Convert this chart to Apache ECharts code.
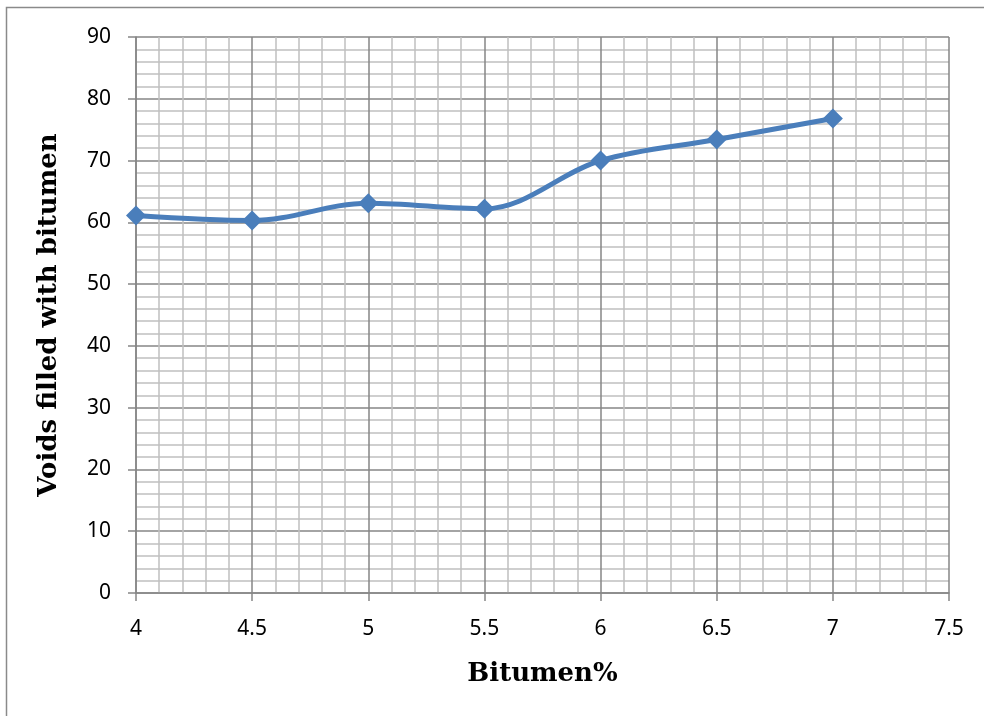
<!DOCTYPE html>
<html>
<head>
<meta charset="utf-8">
<script src="https://cdn.jsdelivr.net/npm/echarts@6/dist/echarts.min.js"></script>
<style>
  html, body { margin: 0; padding: 0; background: #fff; }
  #chart { width: 984px; height: 716px; }
</style>
</head>
<body>
<div id="chart"></div>
<script>
// Bitumen content (%) and voids filled with bitumen (VFB)
const bitumenPct = [4, 4.5, 5, 5.5, 6, 6.5, 7];
const vfb = [61.1, 60.3, 63.1, 62.2, 70.0, 73.4, 76.8];

const xAxisTitle = 'Bitumen%';
const yAxisTitle = 'Voids filled with bitumen';

const majorColor = '#868686';
const minorColor = '#c0c0c0';
const tickFont = { fontFamily: 'Noto Sans', fontSize: 21, color: '#000' };
const titleFont = { fontFamily: 'DejaVu Serif', fontWeight: 'bold', fontSize: 26, color: '#000' };

const chart = echarts.init(document.getElementById('chart'), null, { renderer: 'canvas' });

chart.setOption({
  animation: false,
  backgroundColor: '#fff',
  graphic: [{
    type: 'rect',
    shape: { x: 6.5, y: 7.5, width: 1100, height: 900 },
    style: { fill: 'none', stroke: '#8a8a8a', lineWidth: 1.5 },
    z: -10
  }],
  grid: { left: 136, right: 35, top: 37, bottom: 123, containLabel: false },
  xAxis: {
    type: 'value',
    min: 4, max: 7.5, interval: 0.5,
    name: xAxisTitle,
    nameLocation: 'middle',
    nameGap: 68,
    nameTextStyle: titleFont,
    axisLine: { show: true, onZero: false, lineStyle: { color: majorColor, width: 1.5 } },
    axisTick: { show: true, length: 8, lineStyle: { color: majorColor, width: 1.5 } },
    axisLabel: Object.assign({ margin: 26 }, tickFont),
    splitLine: { show: true, lineStyle: { color: majorColor, width: 1.5 } },
    minorTick: { show: false, splitNumber: 5 },
    minorSplitLine: { show: true, lineStyle: { color: minorColor, width: 1.5 } }
  },
  yAxis: {
    type: 'value',
    min: 0, max: 90, interval: 10,
    name: yAxisTitle,
    nameLocation: 'middle',
    nameGap: 74,
    nameTextStyle: titleFont,
    axisLine: { show: true, onZero: false, lineStyle: { color: majorColor, width: 1.5 } },
    axisTick: { show: true, length: 8, lineStyle: { color: majorColor, width: 1.5 } },
    axisLabel: Object.assign({ margin: 25 }, tickFont),
    splitLine: { show: true, lineStyle: { color: majorColor, width: 1.5 } },
    minorTick: { show: false, splitNumber: 5 },
    minorSplitLine: { show: true, lineStyle: { color: minorColor, width: 1.5 } }
  },
  series: [{
    type: 'line',
    data: bitumenPct.map((x, i) => [x, vfb[i]]),
    smooth: 0.35,
    symbol: 'diamond',
    symbolSize: 20,
    lineStyle: { color: '#4a7ebb', width: 5 },
    itemStyle: { color: '#4a7ebb' },
    z: 5
  }]
});
</script>
</body>
</html>
